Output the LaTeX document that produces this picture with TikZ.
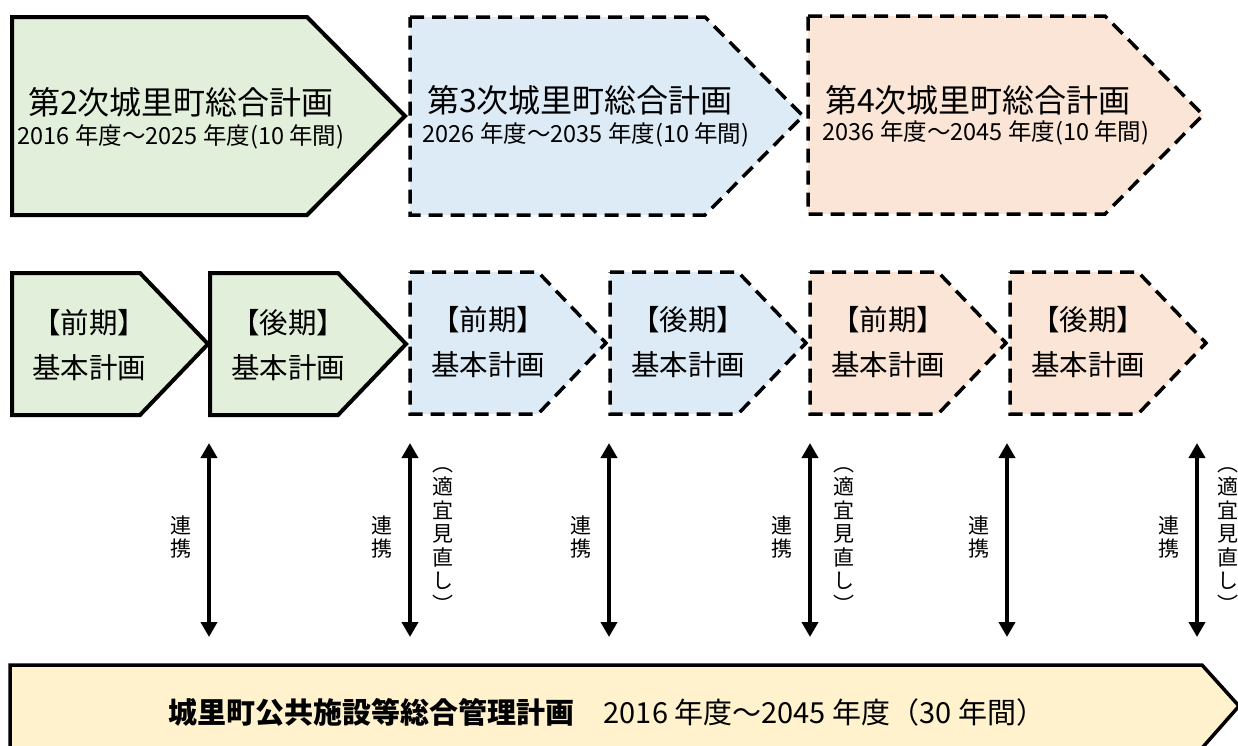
\documentclass[tikz,border=0pt]{standalone}
\usepackage{fontspec}
\setmainfont{Noto Sans CJK JP}
\usetikzlibrary{arrows.meta}
\definecolor{gfill}{HTML}{E2EFDA}
\definecolor{bfill}{HTML}{DDEBF7}
\definecolor{pfill}{HTML}{FBE5D6}
\definecolor{yfill}{HTML}{FFF2CC}
\begin{document}
\begin{tikzpicture}[x=1pt,y=-1pt,
  solidbox/.style={draw=black, line width=4pt, fill=gfill},
  dashbox/.style={draw=black, line width=3.5pt, dash pattern=on 14pt off 8pt},
  ttl/.style={font=\fontsize{32}{38}\selectfont, inner sep=0},
  subt/.style={font=\fontsize{23.5}{28}\selectfont, inner sep=0},
  midtxt/.style={font=\fontsize{28.5}{45}\selectfont, align=center, inner sep=0},
  vlab/.style={font=\fontsize{21}{23.5}\selectfont, align=center, inner sep=0},
  link/.style={line width=4pt, {Triangle[width=16pt,length=15pt]}-{Triangle[width=16pt,length=15pt]}},
  bar/.style={draw=black, line width=3.5pt, fill=yfill},
  bartxt/.style={font=\fontsize{29}{34}\selectfont, inner sep=0}]
\useasboundingbox (0,0) rectangle (1238,745);
\fill[white] (0,0) rectangle (1238,745);

% ---- top row ----
\draw[solidbox] (12,17) -- (307,17) -- (405,116) -- (307,215) -- (12,215) -- cycle;
\draw[dashbox, fill=bfill] (410,17) -- (705,17) -- (803,116) -- (705,215) -- (410,215) -- cycle;
\draw[dashbox, fill=pfill] (808,16) -- (1105,16) -- (1203,115) -- (1105,214) -- (808,214) -- cycle;

\node[ttl]  (t2)  at (181,102) {第2次城里町総合計画};
\node[subt] (s2)  at (181,137) {2016 年度～2025 年度(10 年間)};
\node[ttl]  (t3)  at (580,100) {第3次城里町総合計画};
\node[subt] (s3)  at (586,135) {2026 年度～2035 年度(10 年間)};
\node[ttl]  (t4)  at (978,100) {第4次城里町総合計画};
\node[subt] (s4)  at (986,133) {2036 年度～2045 年度(10 年間)};

% ---- middle row ----
\draw[solidbox] (12,273) -- (140,273) -- (208,344) -- (140,415) -- (12,415) -- cycle;
\draw[solidbox] (210,273) -- (338,273) -- (406,344) -- (338,415) -- (210,415) -- cycle;
\draw[dashbox, fill=bfill] (410,272) -- (538,272) -- (606,343) -- (538,414) -- (410,414) -- cycle;
\draw[dashbox, fill=bfill] (610,272) -- (738,272) -- (806,343) -- (738,414) -- (610,414) -- cycle;
\draw[dashbox, fill=pfill] (810,272) -- (938,272) -- (1006,343) -- (938,414) -- (810,414) -- cycle;
\draw[dashbox, fill=pfill] (1010,272) -- (1138,272) -- (1206,343) -- (1138,414) -- (1010,414) -- cycle;

\node[midtxt] (m1) at (89,345)  {【前期】\\基本計画};
\node[midtxt] (m2) at (288,345) {【後期】\\基本計画};
\node[midtxt] (m3) at (488,342) {【前期】\\基本計画};
\node[midtxt] (m4) at (688,342) {【後期】\\基本計画};
\node[midtxt] (m5) at (888,342) {【前期】\\基本計画};
\node[midtxt] (m6) at (1088,342) {【後期】\\基本計画};

% ---- arrows ----
\foreach \i/\x in {1/209,2/410,3/609,4/810,5/1007,6/1197}{
  \coordinate (u\i) at (\x,443);
  \coordinate (d\i) at (\x,637);
  \draw[link] (u\i) -- (d\i);
  \node[vlab] (r\i) at (\x-28,537) {連\\携};
}
\node[vlab] (k2) at (443,540) {︵\\適\\宜\\見\\直\\し\\︶};
\node[vlab] (k4) at (844,540) {︵\\適\\宜\\見\\直\\し\\︶};
\node[vlab] (k6) at (1228,540) {︵\\適\\宜\\見\\直\\し\\︶};

% ---- bottom bar ----
\draw[bar] (10,665) -- (1202,665) -- (1239,706) -- (1202,748) -- (10,748) -- cycle;
\node[bartxt] (b) at (607,712) {\bfseries 城里町公共施設等総合管理計画\mdseries　2016 年度～2045 年度（30 年間）};
\end{tikzpicture}
\end{document}
